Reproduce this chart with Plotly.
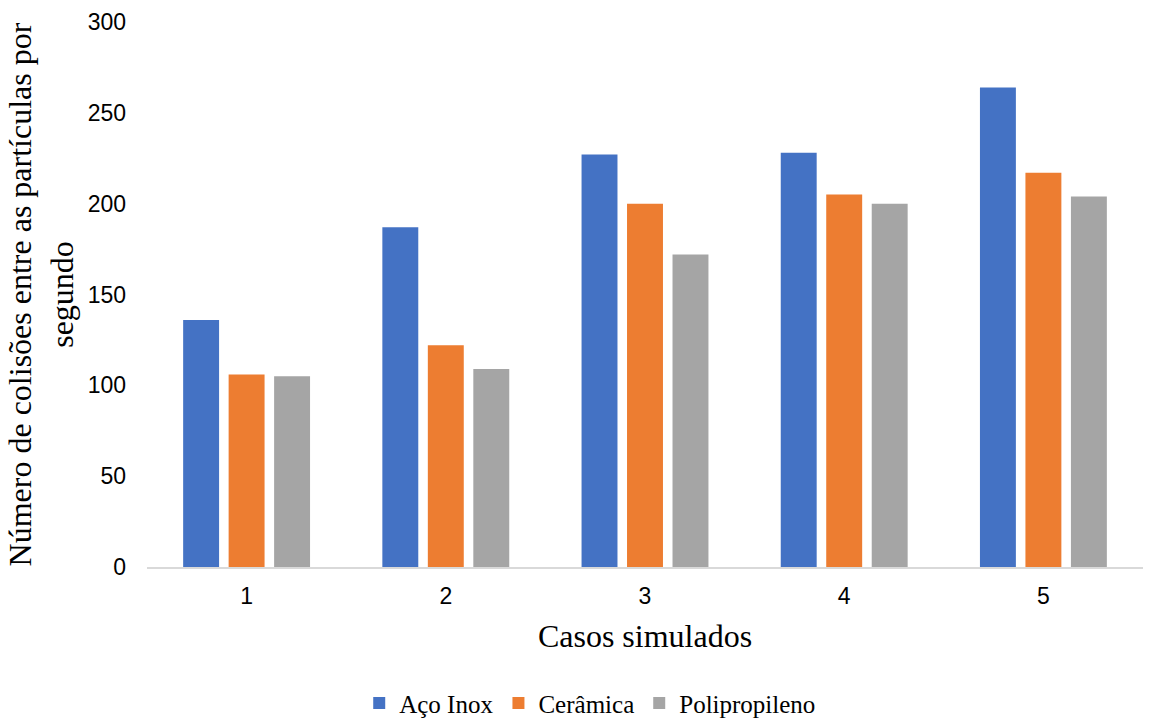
import plotly.graph_objects as go

cases = ["1", "2", "3", "4", "5"]
aco_inox = [136, 187, 227, 228, 264]
ceramica = [106, 122, 200, 205, 217]
polipropileno = [105, 109, 172, 200, 204]

series = [
    ("Aço Inox", aco_inox, "#4472C4"),
    ("Cerâmica", ceramica, "#ED7D31"),
    ("Polipropileno", polipropileno, "#A5A5A5"),
]

SERIF = "Liberation Serif, Times New Roman, serif"
SANS = "Liberation Sans, Arial, sans-serif"

fig = go.Figure()
for name, vals, color in series:
    fig.add_trace(go.Bar(x=cases, y=vals, name=name, marker_color=color,
                         marker_line_width=0))

fig.update_layout(
    width=1170, height=722,
    margin=dict(l=147, r=27, t=22, b=155, autoexpand=False),
    plot_bgcolor="white", paper_bgcolor="white",
    barmode="group", bargap=0.315, bargroupgap=0.21,
    legend=dict(orientation="h", x=0.445, xanchor="center", y=-0.25, yanchor="middle",
                font=dict(family=SERIF, size=25, color="#000000"),
                itemwidth=30, traceorder="normal"),
    xaxis=dict(
        showgrid=False, showline=True, linecolor="#D9D9D9", linewidth=1.5,
        ticks="", tickfont=dict(family=SANS, size=23, color="#000000"),
        ticklabelstandoff=8, automargin=False,
        title=dict(text="Casos simulados", standoff=16,
                   font=dict(family=SERIF, size=32, color="#000000")),
    ),
    yaxis=dict(
        range=[0, 300], dtick=50, showgrid=False, zeroline=False, showline=False,
        ticks="", tickfont=dict(family=SANS, size=23, color="#000000"),
        ticklabelstandoff=20, automargin=False,
        title=dict(text="Número de colisões entre as partículas por<br>segundo", standoff=4,
                   font=dict(family=SERIF, size=32, color="#000000")),
    ),
)

fig.write_html("out.html")
